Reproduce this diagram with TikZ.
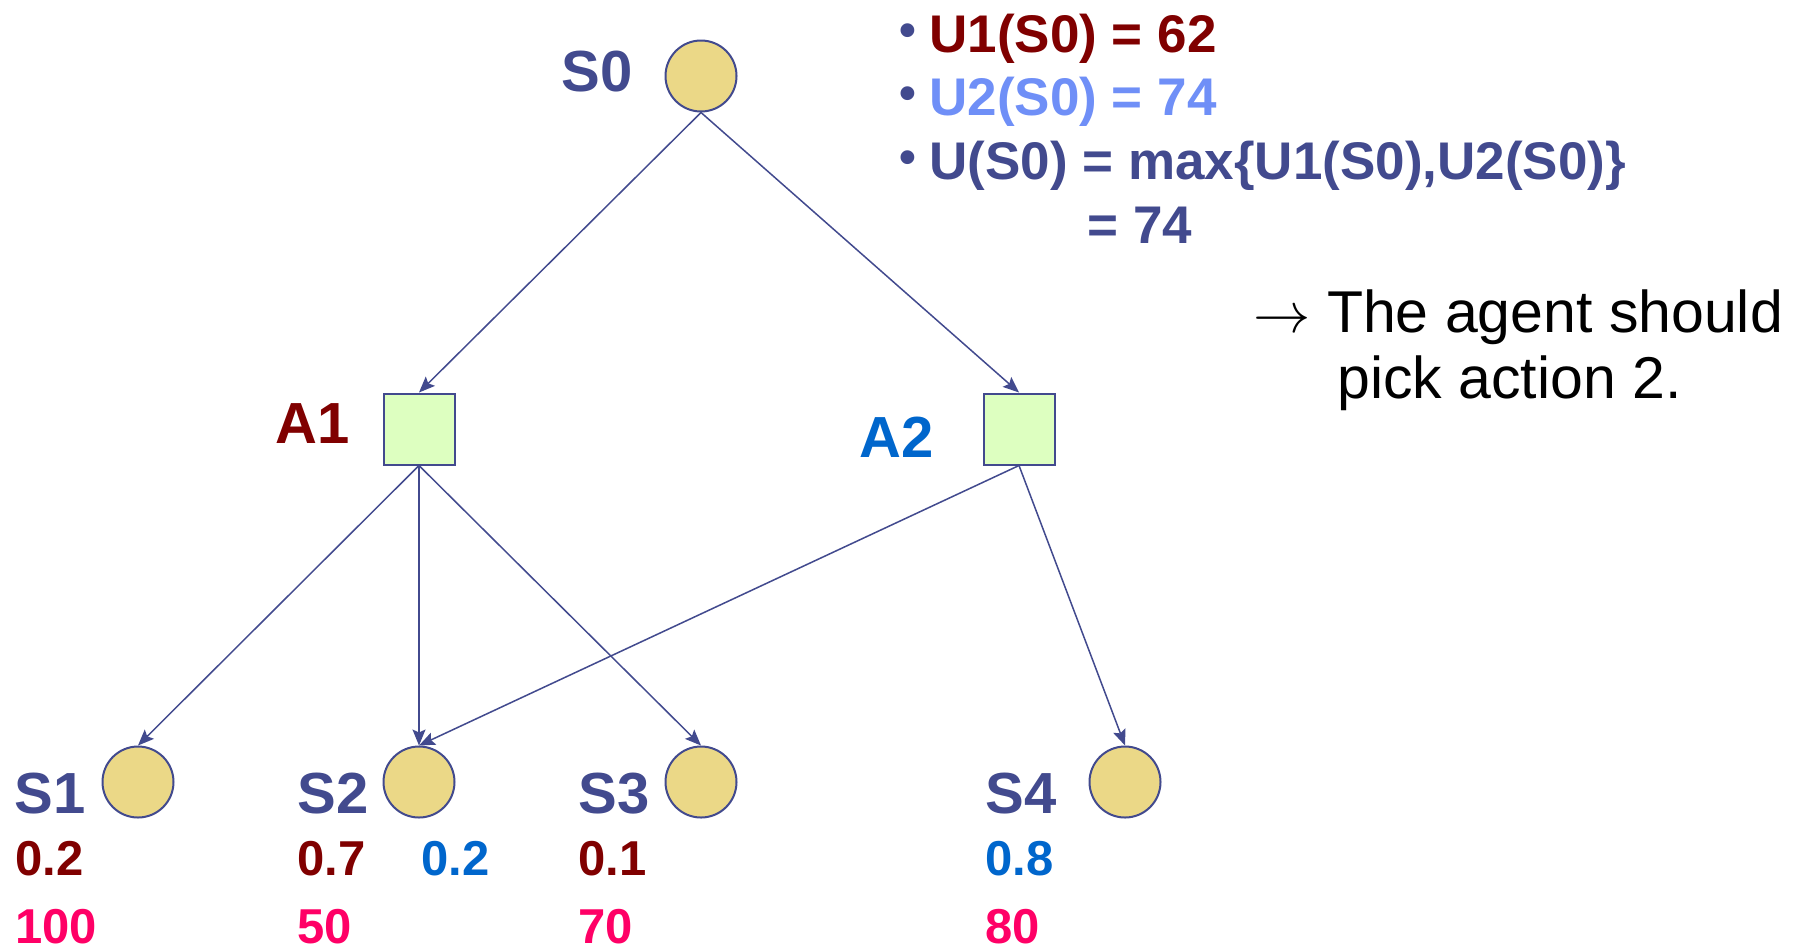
\documentclass[tikz,border=0pt]{standalone}
\usepackage{fontspec}
\setmainfont{Liberation Sans}
\usetikzlibrary{arrows.meta}
\usetikzlibrary{positioning}

\definecolor{navy}{RGB}{66,74,142}
\definecolor{actOne}{RGB}{128,0,0}
\definecolor{actTwo}{RGB}{0,102,204}
\definecolor{utilTwo}{RGB}{111,143,247}
\definecolor{rewardPink}{RGB}{255,0,102}
\definecolor{stateFill}{RGB}{235,216,135}
\definecolor{actionFill}{RGB}{221,255,192}

% small bullet in front of the utility lines
\newcommand{\utilDot}{\makebox[15pt][l]{\raisebox{3pt}{\fontsize{24}{24}\selectfont\color{navy}\textbullet}}}

\begin{document}
\begin{tikzpicture}[
    x=0.5pt, y=-0.5pt,
    stateNode/.style={
        circle, draw=navy, fill=stateFill,
        line width=1pt,
        minimum size=35.5pt, inner sep=0pt
    },
    actionNode/.style={
        rectangle, draw=navy, fill=actionFill,
        line width=1pt,
        minimum size=35.5pt, inner sep=0pt
    },
    nameLabel/.style={anchor=base west, inner sep=0pt, font=\bfseries\fontsize{29}{34}\selectfont},
    numLabel/.style={anchor=base west, inner sep=0pt, font=\bfseries\fontsize{24.5}{29}\selectfont},
    utilLine/.style={anchor=base west, inner sep=0pt, text=navy, font=\bfseries\fontsize{26.5}{32}\selectfont},
    noteLine/.style={anchor=base west, inner sep=0pt, font=\fontsize{29.5}{33}\selectfont},
    link/.style={draw=navy, line width=0.75pt, -{Stealth[length=8pt,width=6.5pt,inset=1.5pt]}}
]
\useasboundingbox (0,0) rectangle (1797,950);

% root state and the two actions
\node[stateNode] (s0) at (701,76) {};
\node[nameLabel, text=navy] (s0lbl) at (561,91) {S0};
\node[actionNode] (a1) at (419,429) {};
\node[nameLabel, text=actOne] (a1lbl) at (275,443) {A1};
\node[actionNode] (a2) at (1019,429) {};
\node[nameLabel, text=actTwo] (a2lbl) at (859,457) {A2};

% outcome states
\foreach \i/\cx/\lx in {1/138/14, 2/419/297, 3/701/578, 4/1125/985} {
    \node[stateNode] (s\i) at (\cx,782) {};
    \node[nameLabel, text=navy] (s\i lbl) at (\lx,813) {S\i};
}

% transition probabilities
\node[numLabel, text=actOne] (p1) at (15,875) {0.2};
\node[numLabel, text=actOne] (p2) at (297,875) {0.7};
\node[numLabel, text=actTwo] (q2) at (421,875) {0.2};
\node[numLabel, text=actOne] (p3) at (578,875) {0.1};
\node[numLabel, text=actTwo] (q4) at (985,875) {0.8};

% rewards
\node[numLabel, text=rewardPink] (r1) at (15,943) {100};
\node[numLabel, text=rewardPink] (r2) at (297,943) {50};
\node[numLabel, text=rewardPink] (r3) at (578,943) {70};
\node[numLabel, text=rewardPink] (r4) at (985,943) {80};

\draw[link] (s0.south) -- (a1.north);
\draw[link] (s0.south) -- (a2.north);
\draw[link] (a1.south) -- (s1.north);
\draw[link] (a1.south) -- (s2.north);
\draw[link] (a1.south) -- (s3.north);
\draw[link] (a2.south) -- (s2.north);
\draw[link] (a2.south) -- (s4.north);

% expected utilities
\node[utilLine] (u1) at (899,52) {\utilDot\textcolor{actOne}{U1(S0) = 62}};
\node[utilLine] (u2) at (899,115) {\utilDot\textcolor{utilTwo}{U2(S0) = 74}};
\node[utilLine] (u3) at (899,179) {\utilDot U(S0) = max\{U1(S0),U2(S0)\}};
\node[utilLine] (u4) at (1087,243) {= 74};

\node[noteLine] (note1) at (1253,332) {\scalebox{1.15}{$\rightarrow$} The agent should};
\node[noteLine] (note2) at (1337,398) {pick action 2.};
\end{tikzpicture}
\end{document}
